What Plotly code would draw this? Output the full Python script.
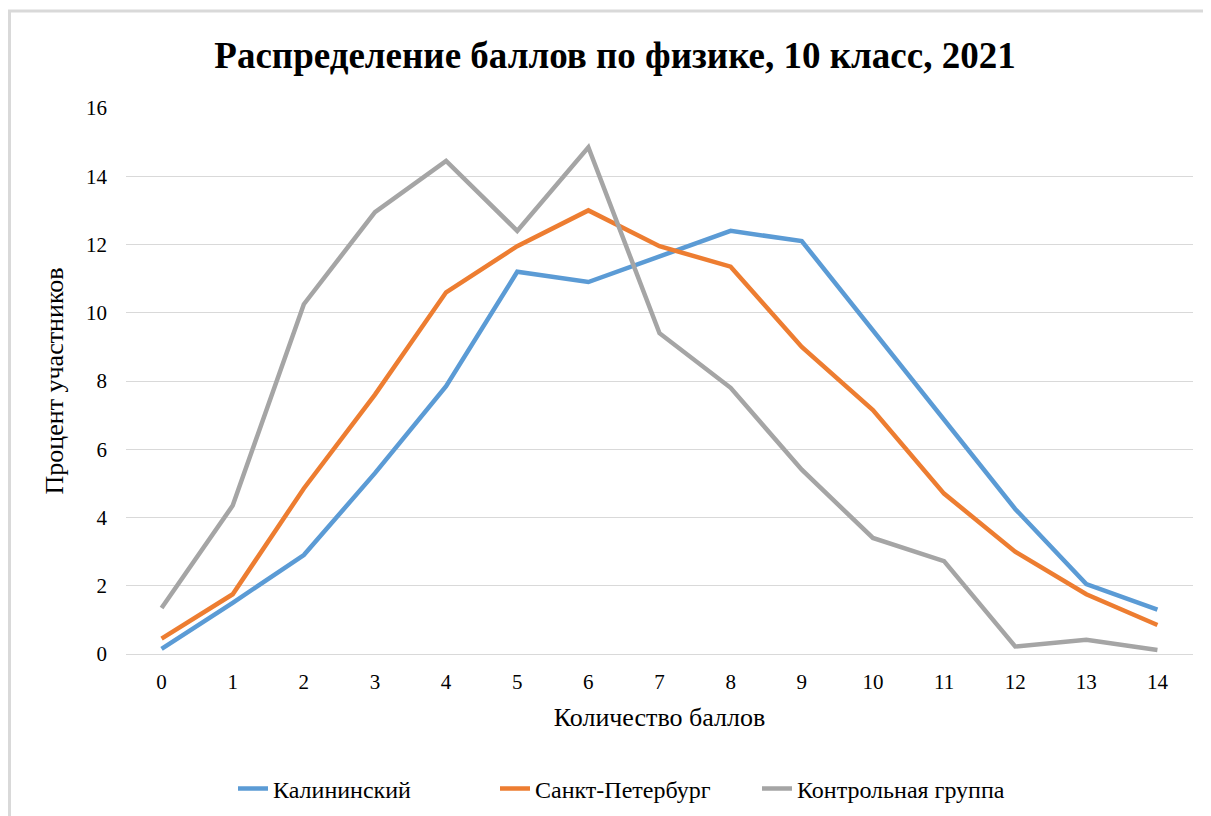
import plotly.graph_objects as go

scores = list(range(15))
kalininsky = [0.15, 1.5, 2.9, 5.3, 7.85, 11.2, 10.9, 11.65, 12.4, 12.1, 9.5, 6.85, 4.25, 2.05, 1.3]
spb = [0.45, 1.75, 4.85, 7.6, 10.6, 11.95, 13.0, 11.95, 11.35, 9.0, 7.15, 4.7, 3.0, 1.75, 0.85]
control = [1.35, 4.35, 10.25, 12.95, 14.45, 12.4, 14.85, 9.4, 7.8, 5.4, 3.4, 2.72, 0.22, 0.42, 0.12]

series = [
    ("Калининский", kalininsky, "#5b9bd5"),
    ("Санкт-Петербург", spb, "#ed7d31"),
    ("Контрольная группа", control, "#a5a5a5"),
]

FONT = "Liberation Serif, Times New Roman, serif"

fig = go.Figure()
for name, vals, color in series:
    fig.add_trace(go.Scatter(
        x=scores, y=vals, name=name, mode="lines",
        line=dict(color=color, width=4.5),
    ))

# page body has an 8px margin, so the figure is laid out 8px smaller/shifted
W, H = 1203, 808
PL, PR, PT, PB = 118, 1185, 100, 646

fig.update_layout(
    width=W, height=H,
    margin=dict(l=PL, r=W - PR, t=PT, b=H - PB, autoexpand=False),
    paper_bgcolor="white", plot_bgcolor="white",
    font=dict(family=FONT, color="#000000", size=21),
    title=dict(
        text="<b>Распределение баллов по физике, 10 класс, 2021</b>",
        x=607 / W, xanchor="center", xref="container",
        y=1 - 47 / H, yanchor="middle", yref="container",
        font=dict(family=FONT, size=37, color="#000000"),
    ),
    xaxis=dict(
        range=[-0.5, 14.5], tickmode="array", tickvals=scores,
        ticktext=[str(s) for s in scores], automargin=False,
        showgrid=False, zeroline=False, showline=False, ticks="",
        tickfont=dict(size=21), ticklabelstandoff=13,
        title=dict(text="Количество баллов", font=dict(size=26), standoff=14),
    ),
    yaxis=dict(
        range=[0, 16], dtick=2, showgrid=True, gridcolor="#d9d9d9", gridwidth=1.3,
        zeroline=True, zerolinecolor="#d9d9d9", zerolinewidth=1.3, showline=False, ticks="",
        tickfont=dict(size=21), ticklabelstandoff=18, automargin=False,
        title=dict(text="Процент участников", font=dict(size=26), standoff=14),
    ),
    legend=dict(
        orientation="h", x=(626 - 126) / (PR - PL), xanchor="center",
        y=-(781 - PB) / (PB - PT), yanchor="middle",
        font=dict(size=24), tracegroupgap=0,
        entrywidth=217, entrywidthmode="pixels",
    ),
    showlegend=True,
)

# chart-area border (top and left edges visible in the reference)
fig.add_shape(type="rect", xref="paper", yref="paper",
              x0=(1.5 - PL) / (PR - PL), x1=1.05,
              y0=-0.35, y1=(PB - 3) / (PB - PT),
              line=dict(color="#d9d9d9", width=3), fillcolor="rgba(0,0,0,0)", layer="below")

fig.write_html("out.html")
